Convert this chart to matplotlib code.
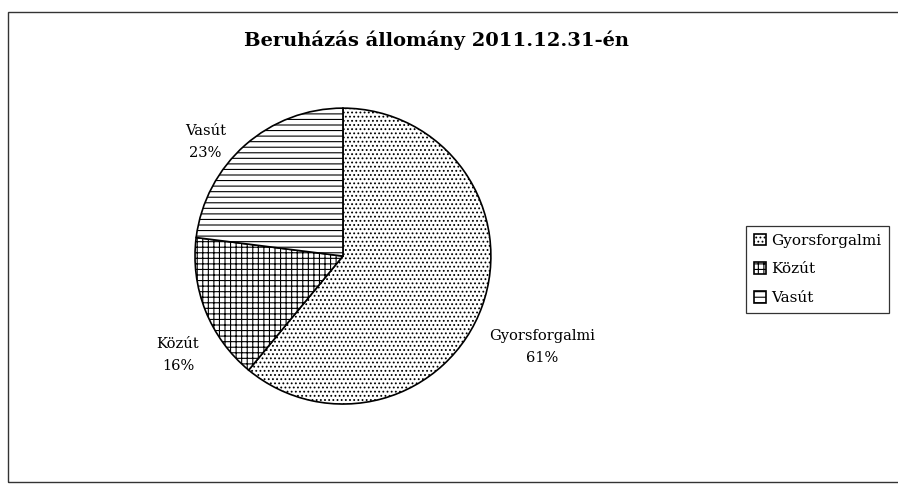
import numpy as np
import matplotlib
matplotlib.use('Agg')
import matplotlib.pyplot as plt
from matplotlib.patches import Rectangle

labels = ['Gyorsforgalmi', 'Közút', 'Vasút']
values = [61, 16, 23]
hatches = ['....', '+++', '---']

plt.rcParams['font.family'] = 'DejaVu Serif'
plt.rcParams['hatch.linewidth'] = 0.8

fig = plt.figure(figsize=(8.98, 4.84), dpi=100)
ax = fig.add_axes([0.1347, 0.0124, 0.4944, 0.917])

wedges, _ = ax.pie(values, startangle=90, counterclock=False,
                   colors=['white'] * 3, radius=1.0,
                   wedgeprops=dict(edgecolor='black', linewidth=1.2))
for w, h in zip(wedges, hatches):
    w.set_hatch(h)

ax.set_xlim(-1.5, 1.5)
ax.set_ylim(-1.5, 1.5)
ax.set_aspect('equal')

label_pos = [(1.345, -0.615), (-1.115, -0.67), (-0.93, 0.77)]
for (x, y), name, v in zip(label_pos, labels, values):
    ax.text(x, y, '%s\n%d%%' % (name, v), ha='center', va='center',
            fontsize=10.5, linespacing=1.75)

fig.text(0.486, 0.917, 'Beruházás állomány 2011.12.31-én', ha='center',
         va='center', fontsize=14, fontweight='bold')

leg = fig.legend(wedges, labels, loc='upper left',
                 bbox_to_anchor=(0.831, 0.533), fontsize=11,
                 frameon=True, fancybox=False, edgecolor='black',
                 handlelength=0.8, handleheight=0.8, handletextpad=0.35,
                 labelspacing=0.95, borderpad=0.5, borderaxespad=0)
leg.get_frame().set_linewidth(0.9)

fig.patches.append(Rectangle((0.009, 0.004), 1.2, 0.971, transform=fig.transFigure,
                             fill=False, edgecolor='#333333', linewidth=1.0))

fig.savefig('out.png', dpi=100)
